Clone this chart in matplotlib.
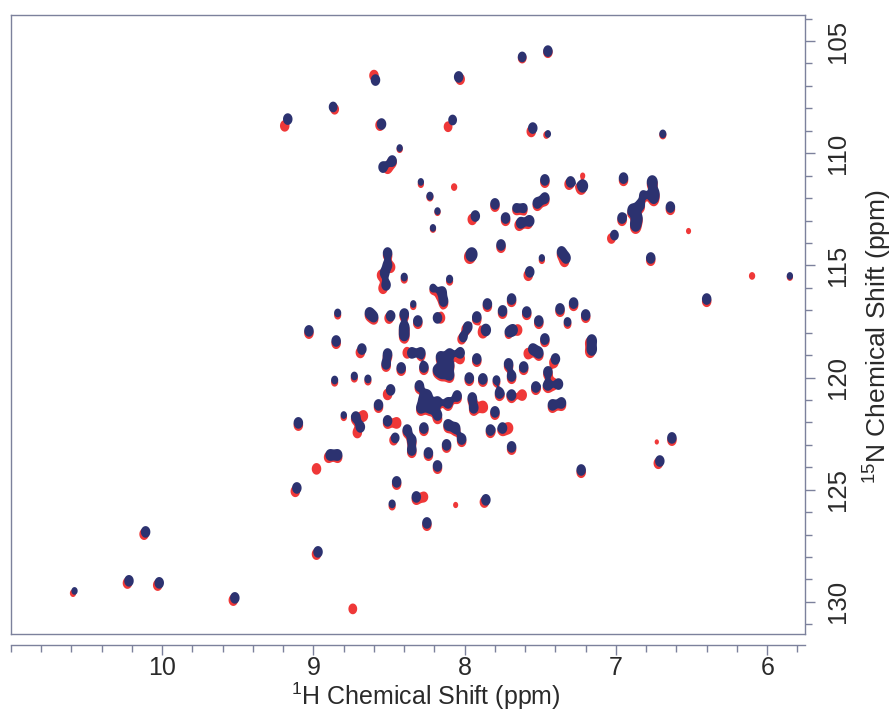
import numpy as np
import matplotlib.pyplot as plt
from matplotlib.ticker import MultipleLocator

plt.rcParams['font.family'] = ['Liberation Sans', 'DejaVu Sans']
plt.rcParams['mathtext.fontset'] = 'custom'
plt.rcParams['mathtext.rm'] = 'Liberation Sans'

# peak list of the blue spectrum: 1H shift (ppm), 15N shift (ppm), relative height
blue_H = [
    7.45, 7.62, 8.04, 8.59, 8.87, 9.17, 8.55, 8.08, 7.55, 7.45,
    6.69, 8.43, 8.48, 8.54, 8.29, 8.23, 8.18, 8.21, 7.47, 7.47,
    7.30, 7.22, 6.95, 6.76, 6.75, 6.75, 7.80, 7.66, 7.61, 7.52,
    7.93, 7.73, 7.63, 7.57, 6.89, 6.86, 6.84, 6.82, 6.87, 6.64,
    6.96, 7.01, 7.76, 7.36, 7.33, 7.49, 7.96, 6.77, 7.57, 5.85,
    6.40, 8.51, 8.51, 8.53, 8.52, 8.40, 7.95, 8.10, 8.21, 8.15,
    8.14, 7.85, 8.34, 8.84, 8.63, 8.60, 8.49, 8.40, 8.31, 8.18,
    7.92, 9.03, 8.40, 8.40, 7.98, 8.01, 7.86, 7.75, 7.69, 7.59,
    7.51, 7.37, 7.28, 7.32, 7.20, 7.68, 7.71, 7.47, 7.55, 7.51,
    7.16, 7.16, 7.40, 8.85, 8.68, 8.51, 8.35, 8.29, 8.16, 8.10,
    8.10, 8.10, 8.03, 7.92, 8.52, 8.42, 8.27, 8.18, 8.15, 7.71,
    7.61, 7.69, 7.45, 8.73, 8.64, 8.86, 7.97, 7.88, 7.79, 7.38,
    7.45, 7.53, 8.49, 8.57, 8.30, 8.27, 8.25, 8.29, 8.23, 8.18,
    8.11, 8.05, 7.95, 7.94, 7.80, 7.77, 7.69, 7.42, 7.36, 7.75,
    7.83, 7.69, 7.23, 6.63, 6.71, 8.80, 8.72, 9.10, 8.51, 8.38,
    8.27, 8.18, 8.11, 8.06, 8.02, 8.12, 8.24, 8.35, 8.35, 8.46,
    8.69, 8.89, 8.84, 9.11, 8.45, 8.32, 8.48, 8.18, 7.86, 8.25,
    8.97, 10.11, 10.22, 10.02, 9.52, 10.58]
blue_N = [
    105.45, 105.71, 106.60, 106.74, 107.94, 108.48, 108.70, 108.52, 108.88, 109.14,
    109.14, 109.77, 110.35, 110.62, 111.28, 111.91, 112.58, 113.33, 111.19, 112.00,
    111.28, 111.46, 111.11, 111.28, 111.77, 112.00, 112.26, 112.44, 112.44, 112.22,
    112.80, 112.89, 113.11, 113.02, 112.53, 112.89, 112.31, 111.86, 113.20, 112.40,
    112.89, 113.65, 114.09, 114.40, 114.67, 114.67, 114.54, 114.67, 115.29, 115.47,
    116.50, 114.45, 114.98, 115.34, 115.87, 115.52, 114.49, 115.61, 116.01, 116.19,
    116.59, 116.72, 116.72, 117.12, 117.12, 117.30, 117.25, 117.17, 117.48, 117.34,
    117.30, 117.92, 117.75, 118.10, 117.75, 118.19, 117.88, 117.03, 116.50, 117.08,
    117.48, 116.94, 116.68, 117.52, 117.21, 117.88, 117.97, 118.28, 118.73, 118.90,
    118.35, 118.75, 119.17, 118.37, 118.73, 118.95, 118.90, 118.90, 119.08, 118.95,
    119.44, 119.88, 118.90, 119.17, 119.39, 119.57, 119.53, 119.66, 119.80, 119.39,
    119.53, 119.93, 119.75, 119.93, 120.06, 120.11, 120.02, 120.06, 120.11, 120.29,
    120.33, 120.42, 120.55, 121.22, 120.37, 121.00, 120.82, 121.35, 121.35, 121.09,
    121.13, 120.82, 120.91, 121.35, 121.53, 120.69, 120.78, 121.22, 121.13, 122.25,
    122.34, 123.09, 124.12, 122.69, 123.72, 121.67, 121.76, 122.02, 121.93, 122.34,
    122.25, 121.67, 122.11, 122.25, 122.74, 123.00, 123.36, 122.78, 123.23, 122.69,
    122.20, 123.45, 123.45, 124.92, 124.65, 125.32, 125.63, 123.94, 125.45, 126.48,
    127.77, 126.88, 129.06, 129.15, 129.82, 129.51]
blue_amp = [
    1.2, 1.0, 1.2, 1.2, 1.0, 1.2, 1.2, 1.0, 1.2, 0.6,
    0.7, 0.6, 1.2, 1.2, 0.6, 0.7, 0.6, 0.6, 1.2, 1.2,
    1.2, 1.8, 1.2, 1.8, 1.8, 1.2, 1.2, 0.8, 0.8, 1.2,
    1.2, 1.2, 1.2, 1.2, 1.5, 1.8, 1.2, 0.8, 1.8, 1.2,
    1.2, 1.0, 1.2, 1.2, 1.2, 0.6, 1.2, 1.2, 1.2, 0.6,
    1.2, 1.2, 1.2, 1.2, 1.2, 0.7, 1.2, 0.7, 0.7, 1.2,
    1.2, 1.2, 0.6, 0.7, 1.2, 1.0, 1.2, 1.2, 1.2, 1.2,
    1.2, 1.2, 1.5, 1.5, 1.2, 1.0, 1.5, 1.2, 1.2, 1.2,
    1.2, 1.2, 1.2, 0.8, 1.2, 1.2, 0.8, 1.2, 1.2, 1.2,
    1.5, 1.5, 1.2, 1.2, 1.2, 1.2, 1.2, 1.2, 1.2, 1.2,
    1.2, 1.2, 1.2, 1.2, 1.2, 1.2, 1.2, 1.2, 1.2, 1.2,
    1.2, 1.2, 1.2, 0.7, 0.7, 0.7, 1.2, 1.2, 0.8, 1.2,
    1.2, 1.2, 1.2, 1.2, 1.2, 1.8, 1.8, 1.2, 1.2, 1.2,
    1.2, 1.2, 1.2, 1.2, 1.2, 1.2, 1.2, 1.2, 1.2, 1.2,
    1.2, 1.2, 1.2, 1.2, 1.2, 0.6, 1.2, 1.2, 1.2, 1.2,
    1.2, 1.2, 1.2, 1.2, 1.2, 1.2, 1.2, 1.2, 1.2, 1.0,
    1.2, 1.2, 1.2, 1.2, 1.2, 1.2, 0.7, 1.2, 1.2, 1.2,
    1.2, 1.2, 1.2, 1.2, 1.2, 0.6]

# shift of the matching red peak relative to each blue peak
red_dH = [
    0, 0, -0.01, 0.01, -0.01, 0.02, 0.01, 0.03, 0.01, 0.01,
    0, 0, 0, -0.03, 0, 0, 0, 0, 0, 0,
    0.01, 0.01, 0, 0, 0, 0, 0, 0, 0, 0,
    0.02, 0, 0.01, 0.01, 0, 0, 0, 0, 0, 0,
    0, 0.02, 0, 0, 0.01, 0, 0.01, 0, 0.01, 0,
    0, 0, -0.02, 0.02, 0.02, 0, 0.01, 0, 0, 0.01,
    0, 0, 0, 0, 0, 0, 0.01, 0, 0, -0.02,
    0, 0, 0, 0, 0.01, 0.01, 0.02, 0, 0, 0,
    0, 0, 0, 0, 0, -0.03, 0, 0, 0.03, 0,
    0.01, 0.01, 0.01, 0, 0.01, 0, 0.03, 0, 0, 0,
    0, 0, 0, 0, 0, 0, 0, 0, 0, 0,
    0, 0, 0, 0, 0, 0, 0, 0, 0, 0.03,
    0, 0, 0.02, 0, 0, 0, 0, 0, 0, 0,
    0, 0, 0, 0, 0, 0, 0, 0, 0, 0,
    0, 0, 0, 0, 0.01, 0, 0, 0, 0, 0,
    0, 0, 0, 0, 0, 0, 0, 0, 0, 0.01,
    0.02, 0.01, 0, 0.01, 0, 0, 0, 0, 0.01, 0,
    0.01, 0.01, 0.01, 0.01, 0.01, 0.01]
red_dN = [
    0.05, 0.05, 0.1, -0.2, 0.1, 0.3, 0.05, 0.3, 0.15, 0.05,
    0.05, 0.05, 0.05, 0.05, 0.1, 0.05, 0.05, 0.05, 0.1, 0.1,
    0.1, 0.1, 0.1, 0.1, 0.1, 0.1, 0.1, 0.1, 0.1, 0.1,
    0.15, 0.1, 0.1, 0.1, 0.1, 0.1, 0.1, 0.1, 0.1, 0.1,
    0.1, 0.15, 0.1, 0.1, 0.15, 0.1, 0.1, 0.1, 0.15, 0.05,
    0.1, 0.1, 0.1, 0.1, 0.15, 0.1, 0.1, 0.1, 0.1, 0.15,
    0.1, 0.1, 0.1, 0.1, 0.1, 0.1, 0.1, 0.1, 0.1, 0.0,
    0.1, 0.1, 0.1, 0.1, 0.1, 0.1, 0.1, 0.1, 0.1, 0.1,
    0.1, 0.1, 0.1, 0.1, 0.1, 0.0, 0.1, 0.1, 0.2, 0.1,
    0.1, 0.1, 0.15, 0.1, 0.15, 0.1, 0.0, 0.1, 0.1, 0.1,
    0.1, 0.1, 0.25, 0.1, 0.1, 0.1, 0.1, 0.1, 0.1, 0.1,
    0.1, 0.1, 0.1, 0.1, 0.1, 0.1, 0.1, 0.1, 0.1, 0.0,
    0.1, 0.1, 0.2, 0.1, 0.1, 0.1, 0.1, 0.1, 0.1, 0.1,
    0.1, 0.1, 0.1, 0.1, 0.1, 0.1, 0.1, 0.1, 0.1, 0.1,
    0.1, 0.1, 0.1, 0.1, 0.1, 0.1, 0.1, 0.1, 0.1, 0.1,
    0.1, 0.15, 0.1, 0.1, 0.1, 0.1, 0.1, 0.1, 0.1, 0.1,
    0.25, 0.1, 0.1, 0.15, 0.1, 0.1, 0.1, 0.1, 0.1, 0.1,
    0.1, 0.1, 0.1, 0.1, 0.1, 0.1]

# peaks seen only in the red spectrum
red_only_H = [8.07, 6.52, 6.10, 8.74, 8.06, 8.98, 7.62, 7.71, 8.45, 8.67, 7.88, 8.27, 6.73, 7.22]
red_only_N = [111.51, 113.47, 115.47, 130.31, 125.68, 124.07, 120.78, 122.25, 122.02, 121.71,
              121.31, 125.32, 122.87, 111.0]
red_only_amp = [0.6, 0.5, 0.6, 1.0, 0.5, 1.2, 1.2, 1.2, 1.2, 1.2, 1.5, 1.0, 0.45, 0.5]

x_ticks = [10, 9, 8, 7, 6]
y_ticks = [105, 110, 115, 120, 125, 130]

blue = '#2c3270'
red = '#ef3838'
frame = '#7c819c'
text_c = '#2a2a2a'

hh = np.linspace(11.0, 5.75, 1800)
nn = np.linspace(103.8, 131.5, 1400)


def spectrum(H, N, amp, wH=0.02, wN=0.165):
    gx = np.exp(-0.5 * ((hh[None, :] - np.asarray(H)[:, None]) / wH) ** 2)
    gy = np.exp(-0.5 * ((nn[None, :] - np.asarray(N)[:, None]) / wN) ** 2)
    return (gy.T * np.asarray(amp)) @ gx


red_H = list(np.array(blue_H) + np.array(red_dH)) + red_only_H
red_N = list(np.array(blue_N) + np.array(red_dN)) + red_only_N
red_amp = blue_amp + red_only_amp

Z_red = spectrum(red_H, red_N, red_amp)
Z_blue = spectrum(blue_H, blue_N, blue_amp)

fig = plt.figure(figsize=(8.93, 7.11), dpi=100)
ax = fig.add_axes([11 / 893, 1 - 634 / 711, 794 / 893, 619 / 711])

level = 0.35
ax.contourf(hh, nn, Z_red, levels=[level, 1e6], colors=[red], antialiased=True)
ax.contourf(hh, nn, Z_blue, levels=[level, 1e6], colors=[blue], antialiased=True)

ax.set_xlim(11.0, 5.75)
ax.set_ylim(131.43, 103.84)

for s in ax.spines.values():
    s.set_color(frame)
    s.set_linewidth(1)
ax.spines['bottom'].set_position(('outward', 8))
ax.plot([0, 1], [0, 0], transform=ax.transAxes, color=frame, lw=1, clip_on=False)

ax.set_xticks(x_ticks)
ax.xaxis.set_minor_locator(MultipleLocator(0.2))
ax.set_yticks(y_ticks)
ax.yaxis.set_minor_locator(MultipleLocator(1))
ax.yaxis.tick_right()
ax.yaxis.set_label_position('right')

ax.tick_params(axis='both', which='major', direction='out', length=7, width=1,
               colors=frame, labelcolor=text_c, labelsize=18.5)
ax.tick_params(axis='both', which='minor', direction='out', length=5, width=1, colors=frame)
ax.tick_params(axis='x', which='major', pad=1, labelsize=18)
ax.tick_params(axis='y', which='major', pad=8)
for lab in ax.get_yticklabels():
    lab.set_rotation(90)
    lab.set_va('center')

# x title sits on the figure's bottom edge, just under the tick labels
fig.text(0.477, 0.009, '$^{1}$H Chemical Shift (ppm)', fontsize=18, color=text_c,
         ha='center', va='baseline')
ax.set_ylabel('$^{15}$N Chemical Shift (ppm)', fontsize=19, color=text_c,
              rotation=90, va='center', ha='center')
ax.yaxis.set_label_coords(1.09, 0.48)

fig.savefig('out.png', dpi=100, facecolor='white')
